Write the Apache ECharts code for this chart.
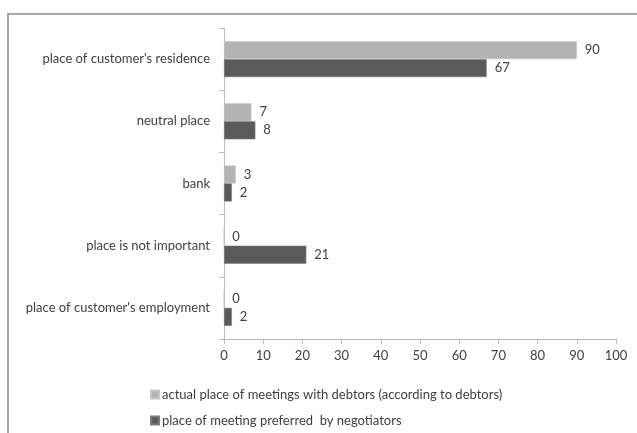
<!DOCTYPE html>
<html>
<head>
<meta charset="utf-8">
<script src="https://cdn.jsdelivr.net/npm/echarts@6/dist/echarts.min.js"></script>
<style>
  html, body { margin: 0; padding: 0; background: #ffffff; }
  #chart { width: 637px; height: 433px; }
</style>
</head>
<body>
<div id="chart"></div>
<script>
// Meeting places: where meetings actually happened vs. where negotiators prefer them
const categories = [
  "place of customer's residence",
  "neutral place",
  "bank",
  "place is not important",
  "place of customer's employment"
];
const actualMeetings = [90, 7, 3, 0, 0];
const preferredMeetings = [67, 8, 2, 21, 2];
const seriesNames = [
  "actual place of meetings with debtors (according to debtors)",
  "place of meeting preferred  by negotiators"
];
const axisMin = 0, axisMax = 100, axisStep = 10;

const FONT = 'Lato, "Open Sans", sans-serif';
const TEXT = '#404040';
const FS = 13;

const chart = echarts.init(document.getElementById('chart'));

const valueLabel = {
  show: true,
  position: 'right',
  distance: 8,
  color: TEXT,
  fontFamily: FONT,
  fontSize: FS
};

// one legend block per series, stacked as two rows
function legendRow(name, top) {
  return {
    orient: 'horizontal',
    left: 150,
    top: top,
    padding: 0,
    itemWidth: 8,
    itemHeight: 8,
    itemGap: 0,
    icon: 'rect',
    textStyle: { color: TEXT, fontFamily: FONT, fontSize: FS, padding: [0, 0, 0, -2] },
    data: [name]
  };
}

chart.setOption({
  animation: false,
  textStyle: { fontFamily: FONT },
  grid: { left: 224, right: 21, top: 28, bottom: 94, containLabel: false },
  xAxis: {
    type: 'value',
    min: axisMin,
    max: axisMax,
    interval: axisStep,
    axisLine: { show: true, lineStyle: { color: '#bdbdbd', width: 1 } },
    axisTick: { show: true, length: 5, lineStyle: { color: '#bdbdbd' } },
    splitLine: { show: false },
    axisLabel: { color: TEXT, fontFamily: FONT, fontSize: FS, margin: 10 }
  },
  yAxis: {
    type: 'category',
    inverse: true,
    data: categories,
    axisLine: { show: true, lineStyle: { color: '#bdbdbd', width: 1 } },
    axisTick: { show: true, length: 5, inside: false, lineStyle: { color: '#bdbdbd' } },
    axisLabel: { color: TEXT, fontFamily: FONT, fontSize: FS, margin: 14 }
  },
  legend: [
    legendRow(seriesNames[0], 388),
    legendRow(seriesNames[1], 414)
  ],
  series: [
    {
      name: seriesNames[0],
      type: 'bar',
      data: actualMeetings,
      barWidth: 18,
      barGap: '0%',
      itemStyle: { color: '#b3b3b3', borderColor: '#c8c8c8', borderWidth: 0.6 },
      label: valueLabel
    },
    {
      name: seriesNames[1],
      type: 'bar',
      data: preferredMeetings,
      barWidth: 18,
      barGap: '0%',
      itemStyle: { color: '#5a5a5a', borderColor: '#7a7a7a', borderWidth: 0.6 },
      label: valueLabel
    }
  ],
  graphic: [
    {
      type: 'polyline',
      silent: true,
      shape: { points: [[8, 433], [8, 14], [637, 14]] },
      style: { stroke: '#8a8a8a', lineWidth: 1.5, fill: null }
    }
  ]
});
</script>
</body>
</html>
